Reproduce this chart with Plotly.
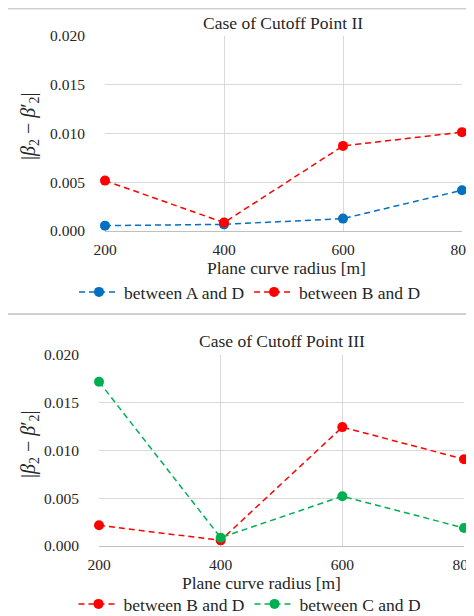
import plotly.graph_objects as go

radius = [200, 400, 600, 800]
y_ticks = [0.000, 0.005, 0.010, 0.015, 0.020]
y_tick_labels = ["0.000", "0.005", "0.010", "0.015", "0.020"]

# Case II
ii_a_d = [0.00055, 0.00068, 0.00127, 0.00418]
ii_b_d = [0.00517, 0.00086, 0.00873, 0.01014]
# Case III
iii_b_d = [0.00217, 0.00059, 0.01245, 0.00909]
iii_c_d = [0.01720, 0.00087, 0.00521, 0.00189]

BLUE = "#0070C0"
RED = "#FF0000"
GREEN = "#00B050"
FONT = "Liberation Serif, Times New Roman, DejaVu Serif, serif"
TXT = "#262626"
GRID = "#D9D9D9"

# page has an 8px body margin: figure sits at (8, 8) in the window
OFF = 8
W, H = 474 - OFF, 616 - OFF
def px(x): return (x - OFF) / W
def py(y): return 1 - (y - OFF) / H

TXT_SIZE = 17.5
TICK_SIZE = 15.5

fig = go.Figure()

def add(xaxis, yaxis, vals, color, name, legend):
    fig.add_trace(go.Scatter(
        x=radius, y=vals, mode="lines+markers", name=name,
        xaxis=xaxis, yaxis=yaxis, legend=legend, cliponaxis=False,
        line=dict(color=color, width=1.5, dash="6px,4px"),
        marker=dict(color=color, size=10),
    ))

add("x", "y", ii_a_d, BLUE, "between A and D", "legend")
add("x", "y", ii_b_d, RED, "between B and D", "legend")
add("x2", "y2", iii_b_d, RED, "between B and D", "legend2")
add("x2", "y2", iii_c_d, GREEN, "between C and D", "legend2")

xax = dict(range=[200, 800], tickvals=radius, showgrid=True, gridcolor=GRID,
           zeroline=False, showline=True, linecolor="#BFBFBF", mirror=False,
           ticks="outside", ticklen=4, tickcolor="rgba(0,0,0,0)", automargin=False,
           ticklabeloverflow="allow",
           tickfont=dict(family=FONT, size=TICK_SIZE, color=TXT))
yax = dict(range=[0, 0.020], tickvals=y_ticks, ticktext=y_tick_labels,
           showgrid=True, gridcolor=GRID, zeroline=False, showline=False,
           ticks="outside", ticklen=16, tickcolor="rgba(0,0,0,0)", automargin=False,
           tickfont=dict(family=FONT, size=TICK_SIZE, color=TXT))

leg = dict(orientation="h", xanchor="center", yanchor="middle",
           font=dict(family=FONT, size=TXT_SIZE, color=TXT), itemwidth=40,
           bgcolor="rgba(0,0,0,0)", tracegroupgap=0)

fig.update_layout(
    width=W, height=H, margin=dict(l=0, r=0, t=0, b=0, autoexpand=False),
    paper_bgcolor="white", plot_bgcolor="white",
    font=dict(family=FONT, size=TXT_SIZE, color=TXT),
    xaxis=dict(xax, domain=[px(105), px(462)], anchor="y"),
    yaxis=dict(yax, domain=[py(231), py(36)], anchor="x"),
    xaxis2=dict(xax, domain=[px(99), px(464)], anchor="y2"),
    yaxis2=dict(yax, domain=[py(546), py(355)], anchor="x2"),
    legend=dict(leg, x=px(250), y=py(292)),
    legend2=dict(leg, x=px(250), y=py(604)),
    showlegend=True,
)

ytitle = "|<i>β</i><sub>2</sub> − <i>β</i>′<sub>2</sub>|"
ann = [
    dict(text="Case of Cutoff Point II", x=px(283), y=py(23), size=TXT_SIZE),
    dict(text="Plane curve radius [m]", x=px(286), y=py(268), size=TXT_SIZE),
    dict(text=ytitle, x=px(30), y=py(126), textangle=-90, size=20),
    dict(text="Case of Cutoff Point III", x=px(282), y=py(341), size=TXT_SIZE),
    dict(text="Plane curve radius [m]", x=px(261), y=py(583), size=TXT_SIZE),
    dict(text=ytitle, x=px(29), y=py(444), textangle=-90, size=20),
]
for a in ann:
    size = a.pop("size")
    fig.add_annotation(xref="paper", yref="paper", showarrow=False,
                       xanchor="center", yanchor="middle",
                       font=dict(family=FONT, size=size, color=TXT), **a)

for yy in (8.5, 314):
    fig.add_shape(type="line", xref="paper", yref="paper",
                  x0=px(6), x1=1, y0=py(yy), y1=py(yy),
                  line=dict(color="#D0D0D0", width=2))

fig.write_html("out.html")
